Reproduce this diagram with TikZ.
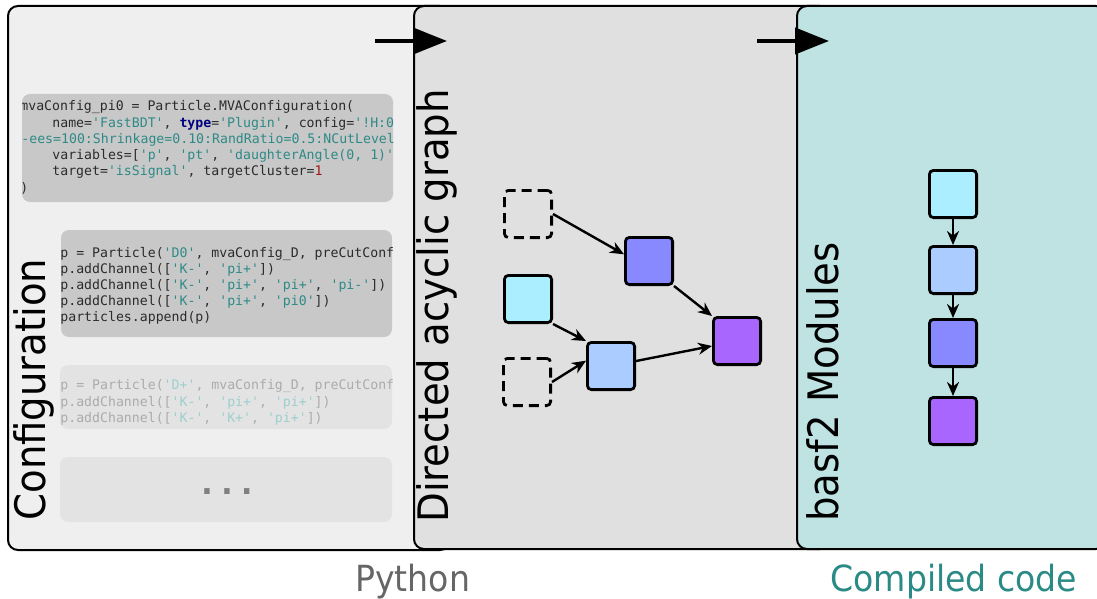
\documentclass[tikz,border=0pt]{standalone}
\usepackage{fontspec}
\setmainfont{DejaVu Sans}[FakeStretch=0.92]
\setmonofont{DejaVu Sans Mono}
\usepackage{xcolor}
\usetikzlibrary{arrows.meta, positioning}
\definecolor{panelConf}{HTML}{EFEFEF}
\definecolor{panelDag}{HTML}{E0E0E0}
\definecolor{panelMod}{HTML}{BFE3E3}
\definecolor{codeBg}{HTML}{C8C8C8}
\definecolor{codeBgFaded}{HTML}{E3E3E3}
\definecolor{codeText}{HTML}{2B2B2B}
\definecolor{codeTextFaded}{HTML}{ABABAB}
\definecolor{codeStr}{HTML}{2E8A87}
\definecolor{codeStrFaded}{HTML}{9CCFCD}
\definecolor{codeKw}{HTML}{00007F}
\definecolor{codeNum}{HTML}{A31515}
\definecolor{nodeCyan}{HTML}{AAEEFF}
\definecolor{nodeLight}{HTML}{AACCFF}
\definecolor{nodeBlue}{HTML}{8888FF}
\definecolor{nodePurple}{HTML}{A866FF}
\definecolor{pyGray}{HTML}{666666}
\definecolor{compTeal}{HTML}{2A8A85}
\colorlet{strCol}{codeStr}
\newcommand{\pystr}[1]{\textcolor{strCol}{#1}}
\newcommand{\pykw}[1]{\textcolor{codeKw}{\bfseries #1}}
\newcommand{\pynum}[1]{\textcolor{codeNum}{#1}}
\tikzset{
  panel/.style={draw=black, line width=1pt, rounded corners=5pt, fill=#1},
  codebox/.style={fill=#1, rounded corners=4pt},
  codeline/.style={anchor=base west, inner sep=0pt,
    font=\ttfamily\fontsize{6.6}{8}\selectfont, text=#1},
  sidelabel/.style={rotate=90, anchor=base west, inner sep=0pt,
    font=\fontsize{21}{25}\selectfont},
  footlabel/.style={anchor=base west, inner sep=0pt,
    font=\fontsize{18}{22}\selectfont, text=#1},
  modbox/.style={draw=black, line width=1.4pt, rounded corners=2pt,
    minimum size=23.6pt, inner sep=0pt, fill=#1},
  ghostbox/.style={draw=black, line width=1.4pt, rounded corners=2pt,
    dash pattern=on 5pt off 3pt, minimum size=23.6pt, inner sep=0pt},
  dagarrow/.style={-{Stealth[length=7pt, width=6pt]}, line width=1.2pt},
  flow/.style={-{Triangle[length=17pt, width=13pt]}, line width=2pt}
}

\begin{document}
\begin{tikzpicture}[x=0.5pt, y=-0.5pt]
\useasboundingbox (0,0) rectangle (1097,599);

% Panels
\path[panel=panelConf] (8,6) rectangle (450,550);
\path[panel=panelDag] (414,6) rectangle (830,549);
\path[panel=panelMod] (797,6) rectangle (1106,549);

% Configuration code
\path[codebox=codeBg] (22,94) rectangle (393,202);
\begin{scope}
  \clip (22,94) rectangle (393,202);
  \node[codeline=codeText] (cfgA1) at (20,111) {mvaConfig\_pi0 = Particle.MVAConfiguration(};
  \node[codeline=codeText] (cfgA2) at (52,127) {name=\pystr{'FastBDT'}, \pykw{type}=\pystr{'Plugin'}, config=\pystr{'!H:0:V:CreateMVAPdfs:NTr}};
  \node[codeline=codeStr] (cfgA3) at (21,143.5) {-ees=100:Shrinkage=0.10:RandRatio=0.5:NCutLevel=8'};
  \node[codeline=codeText] (cfgA4) at (52,159.5) {variables=[\pystr{'p'}, \pystr{'pt'}, \pystr{'daughterAngle(0, 1)'}, \pystr{'M'}]};
  \node[codeline=codeText] (cfgA5) at (52,176) {target=\pystr{'isSignal'}, targetCluster=\pynum{1}};
  \node[codeline=codeText] (cfgA6) at (20,192) {)};
\end{scope}

\path[codebox=codeBg] (61,230) rectangle (392,337);
\begin{scope}
  \clip (61,230) rectangle (392,337);
  \node[codeline=codeText] (cfgB1) at (60,257) {p = Particle(\pystr{'D0'}, mvaConfig\_D, preCutConfig)};
  \node[codeline=codeText] (cfgB2) at (60,273) {p.addChannel([\pystr{'K-'}, \pystr{'pi+'}])};
  \node[codeline=codeText] (cfgB3) at (60,289.5) {p.addChannel([\pystr{'K-'}, \pystr{'pi+'}, \pystr{'pi+'}, \pystr{'pi-'}])};
  \node[codeline=codeText] (cfgB4) at (60,305.5) {p.addChannel([\pystr{'K-'}, \pystr{'pi+'}, \pystr{'pi0'}])};
  \node[codeline=codeText] (cfgB5) at (60,321.5) {particles.append(p)};
\end{scope}

\path[codebox=codeBgFaded] (60,365) rectangle (392,429);
\begin{scope}
  \colorlet{strCol}{codeStrFaded}
  \clip (60,365) rectangle (392,429);
  \node[codeline=codeTextFaded] (cfgC1) at (60,389.5) {p = Particle(\pystr{'D+'}, mvaConfig\_D, preCutConfig)};
  \node[codeline=codeTextFaded] (cfgC2) at (60,406) {p.addChannel([\pystr{'K-'}, \pystr{'pi+'}, \pystr{'pi+'}])};
  \node[codeline=codeTextFaded] (cfgC3) at (60,422) {p.addChannel([\pystr{'K-'}, \pystr{'K+'}, \pystr{'pi+'}])};
\end{scope}

\path[codebox=codeBgFaded] (60,457) rectangle (392,522);
\node[anchor=base, inner sep=0pt, text=gray, font=\ttfamily\bfseries\fontsize{16.5}{18}\selectfont] (cfgMore) at (227,494) {...};

% Directed acyclic graph
\node[ghostbox] (ghostUp) at (528,214) {};
\node[modbox=nodeBlue] (dagMid) at (649,261) {};
\node[modbox=nodeCyan] (dagLeaf) at (528,299) {};
\node[modbox=nodeLight] (dagLow) at (611,366) {};
\node[ghostbox] (ghostDown) at (527,382) {};
\node[modbox=nodePurple] (dagHead) at (737,341) {};

\draw[dagarrow] (ghostUp.east) -- (dagMid.165);
\draw[dagarrow] (dagMid.south east) -- (dagHead.north west);
\draw[dagarrow] (dagLeaf.south east) -- (dagLow.north west);
\draw[dagarrow] (ghostDown.east) -- (dagLow.168);
\draw[dagarrow] (dagLow) -- (dagHead);

% Module chain
\node[modbox=nodeCyan] (mod1) at (953,194) {};
\node[modbox=nodeLight] (mod2) at (953,270) {};
\node[modbox=nodeBlue] (mod3) at (953,343) {};
\node[modbox=nodePurple] (mod4) at (953,421) {};
\foreach \a/\b in {mod1/mod2, mod2/mod3, mod3/mod4}
  \draw[dagarrow] (\a) -- (\b);

% Panel titles
\node[sidelabel] (confTitle) at (46,521) {Configuration};
\node[sidelabel] (dagTitle) at (448,523) {Directed acyclic graph};
\node[sidelabel] (modTitle) at (838,522) {basf2 Modules};

% Flow between panels
\coordinate (confOut) at (375,41);
\coordinate (dagIn) at (447,41);
\coordinate (dagOut) at (757,41);
\coordinate (modIn) at (829,41);
\draw[flow] (confOut) -- (dagIn);
\draw[flow] (dagOut) -- (modIn);

% Footer
\node[footlabel=pyGray] (pyLabel) at (355,591) {Python};
\node[footlabel=compTeal] (compLabel) at (830,591) {Compiled code};
\end{tikzpicture}
\end{document}
